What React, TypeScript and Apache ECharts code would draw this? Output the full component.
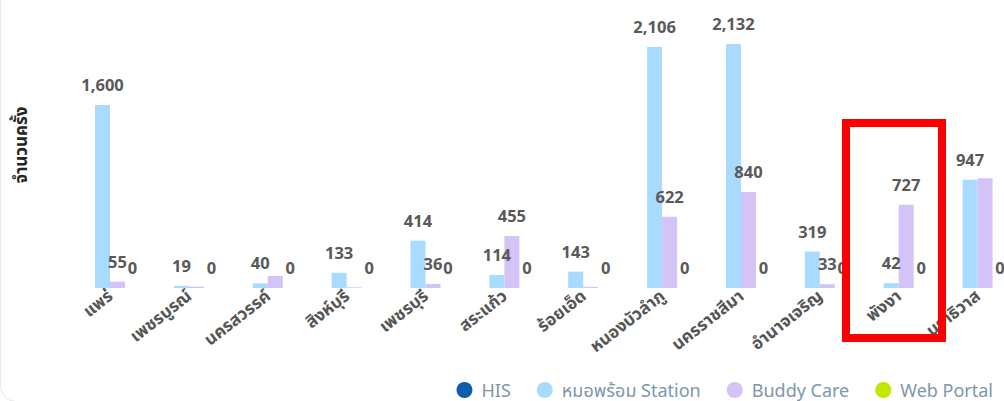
import React, { useEffect, useRef } from "react";
import * as echarts from "echarts";

const categories = [
  "แพร่",
  "เพชรบูรณ์",
  "นครสวรรค์",
  "สิงห์บุรี",
  "เพชรบุรี",
  "สระแก้ว",
  "ร้อยเอ็ด",
  "หนองบัวลำภู",
  "นครราชสีมา",
  "อำนาจเจริญ",
  "พังงา",
  "นราธิวาส",
];

const seriesNames = ["HIS", "หมอพร้อม Station", "Buddy Care", "Web Portal"];

const hisValues: (number | null)[] = [null, null, null, null, null, null, null, null, null, null, null, null];
const stationValues = [1600, 19, 40, 133, 414, 114, 143, 2106, 2132, 319, 42, 947];
const buddyValues = [55, 12, 105, 6, 36, 455, 10, 622, 840, 33, 727, 960];
const webPortalValues = [0, 0, 0, 0, 0, 0, 0, 0, 0, 0, 0, 0];

// buddy labels hidden in the reference (overlapping neighbours)
const buddyHiddenLabels = [1, 2, 3, 6, 11];

const colors = ["#0F5CAB", "#A9DAFF", "#D4C3F6", "#C3E800"];

const FONT = '"Noto Sans", "Noto Sans Thai", sans-serif';

const CHART_W = 1017;

export default function App() {
  const ref = useRef<HTMLDivElement>(null);

  useEffect(() => {
    if (!ref.current) return;
    const chart = echarts.init(ref.current, null, { renderer: "svg" });

    const labelCfg = {
      show: true,
      position: "top" as const,
      distance: 12,
      color: "#595959",
      fontWeight: "bold" as const,
      fontSize: 16.5,
      fontFamily: FONT,
      formatter: (p: any) =>
        p.value == null ? "" : Number(p.value).toLocaleString("en-US"),
    };

    const makeSeries = (name: string, data: any[], idx: number) => ({
      name,
      type: "bar",
      data,
      barWidth: 15,
      barGap: "0%",
      itemStyle: { color: colors[idx] },
      label: labelCfg,
      emphasis: { disabled: true },
    });

    const buddyData = buddyValues.map((v, i) =>
      buddyHiddenLabels.includes(i) ? { value: v, label: { show: false } } : v
    );

    chart.setOption({
      animation: false,
      color: colors,
      grid: { left: 70.6, right: 0, top: 2, bottom: 113, containLabel: false },
      xAxis: {
        type: "category",
        data: categories,
        axisLine: { show: false },
        axisTick: { show: false },
        axisLabel: {
          interval: 0,
          rotate: 38,
          margin: 5,
          color: "#555555",
          fontWeight: "bold",
          fontSize: 17,
          fontFamily: FONT,
        },
      },
      yAxis: {
        type: "value",
        min: 0,
        max: 2500,
        show: true,
        axisLine: { show: false },
        axisTick: { show: false },
        axisLabel: { show: false },
        splitLine: { show: false },
        name: "จำนวนครั้ง",
        nameLocation: "middle",
        nameRotate: 90,
        nameGap: 42,
        nameTextStyle: {
          color: "#252525",
          fontWeight: "bold",
          fontSize: 17,
          fontFamily: FONT,
        },
      },
      legend: {
        data: seriesNames,
        right: 6 + (CHART_W - 1004),
        top: 376,
        icon: "circle",
        itemWidth: 16,
        itemHeight: 16,
        itemGap: 26,
        textStyle: {
          color: "#7d97ab",
          fontSize: 18,
          fontFamily: FONT,
          padding: [0, 0, 0, 4],
        },
      },
      series: [
        makeSeries(seriesNames[0], hisValues, 0),
        makeSeries(seriesNames[1], stationValues, 1),
        makeSeries(seriesNames[2], buddyData, 2),
        makeSeries(seriesNames[3], webPortalValues, 3),
      ],
      graphic: [
        {
          type: "rect",
          z: 100,
          shape: { x: 846, y: 123, width: 96, height: 215 },
          style: { fill: "none", stroke: "#FF0000", lineWidth: 8 },
        },
      ],
    });

    return () => chart.dispose();
  }, []);

  return (
    <div
      style={{
        position: "fixed",
        left: 0,
        top: 0,
        width: 1004,
        height: 401,
        overflow: "hidden",
        background: "#ffffff",
      }}
    >
      <div
        style={{
          position: "absolute",
          left: 0,
          top: -30,
          width: 1100,
          height: 432,
          boxSizing: "border-box",
          border: "1.5px solid #e9e9e9",
          borderRadius: 16,
        }}
      />
      <div ref={ref} style={{ position: "absolute", left: 0, top: 0, width: CHART_W, height: 401 }} />
    </div>
  );
}
